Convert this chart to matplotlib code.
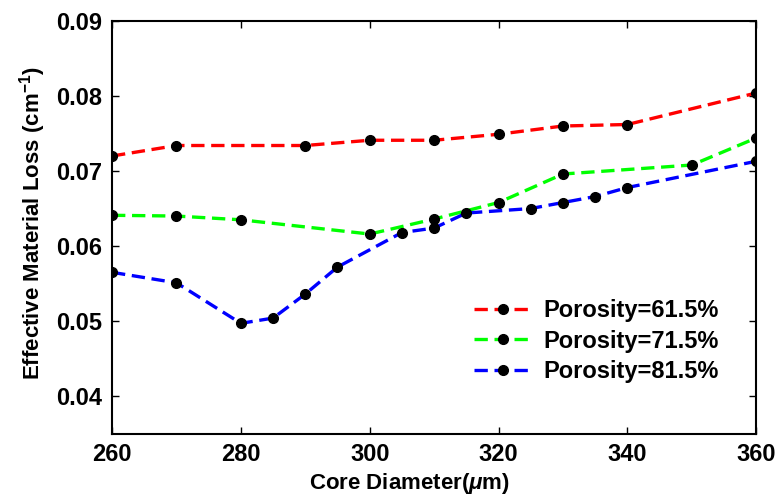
import matplotlib
matplotlib.use('Agg')
import matplotlib.pyplot as plt

plt.rcParams['font.family'] = ['Liberation Sans', 'DejaVu Sans']
plt.rcParams['font.weight'] = 'bold'
plt.rcParams['axes.labelweight'] = 'bold'
plt.rcParams['mathtext.fontset'] = 'custom'
plt.rcParams['mathtext.it'] = 'Liberation Sans:italic:bold'
plt.rcParams['mathtext.rm'] = 'Liberation Sans:bold'

# data
x_615 = [260, 270, 290, 300, 310, 320, 330, 340, 360]
y_615 = [0.0720, 0.0734, 0.0734, 0.0741, 0.0741, 0.0749, 0.0760, 0.0762, 0.0804]

x_715 = [260, 270, 280, 300, 310, 320, 330, 350, 360]
y_715 = [0.0641, 0.0640, 0.0635, 0.0616, 0.0636, 0.0658, 0.0696, 0.0708, 0.0744]

x_815 = [260, 270, 280, 285, 290, 295, 305, 310, 315, 325, 330, 335, 340, 360]
y_815 = [0.0565, 0.0551, 0.0497, 0.0504, 0.0536, 0.0572, 0.0618, 0.0624,
         0.0644, 0.0650, 0.0658, 0.0666, 0.0678, 0.0713]

labels = ['Porosity=61.5%', 'Porosity=71.5%', 'Porosity=81.5%']
colors = ['#ff0000', '#00ff00', '#0000ff']

fig = plt.figure(figsize=(7.78, 4.99), dpi=100)
ax = fig.add_axes([0.144, 0.131, 0.828, 0.827])

for xs, ys, c, lab in zip([x_615, x_715, x_815], [y_615, y_715, y_815], colors, labels):
    ax.plot(xs, ys, '--', color=c, lw=2.4, dashes=(4, 2), marker='o',
            mfc='black', mec='black', ms=7, label=lab)

ax.set_xlim(260, 360)
ax.set_ylim(0.035, 0.09)
ax.set_xticks([260, 280, 300, 320, 340, 360])
ax.set_yticks([0.04, 0.05, 0.06, 0.07, 0.08, 0.09])
ax.set_yticklabels(['0.04', '0.05', '0.06', '0.07', '0.08', '0.09'])
ax.tick_params(direction='in', length=5, width=1, top=True, right=True,
               labelsize=17, pad=7)
for s in ax.spines.values():
    s.set_linewidth(1.5)

ax.set_xlabel(r'Core Diameter($\mu$m)', fontsize=16)
ax.xaxis.set_label_coords(0.461, -0.09)
ax.set_ylabel(r'Effective Material Loss (cm$^{-1}$)', fontsize=16)
ax.yaxis.set_label_coords(-0.1, 0.51)

ax.legend(loc='lower right', bbox_to_anchor=(0.975, 0.07), frameon=False,
          fontsize=17, numpoints=1, handlelength=2.5, handletextpad=0.45,
          labelspacing=0.33)

plt.savefig('out.png', dpi=100)
